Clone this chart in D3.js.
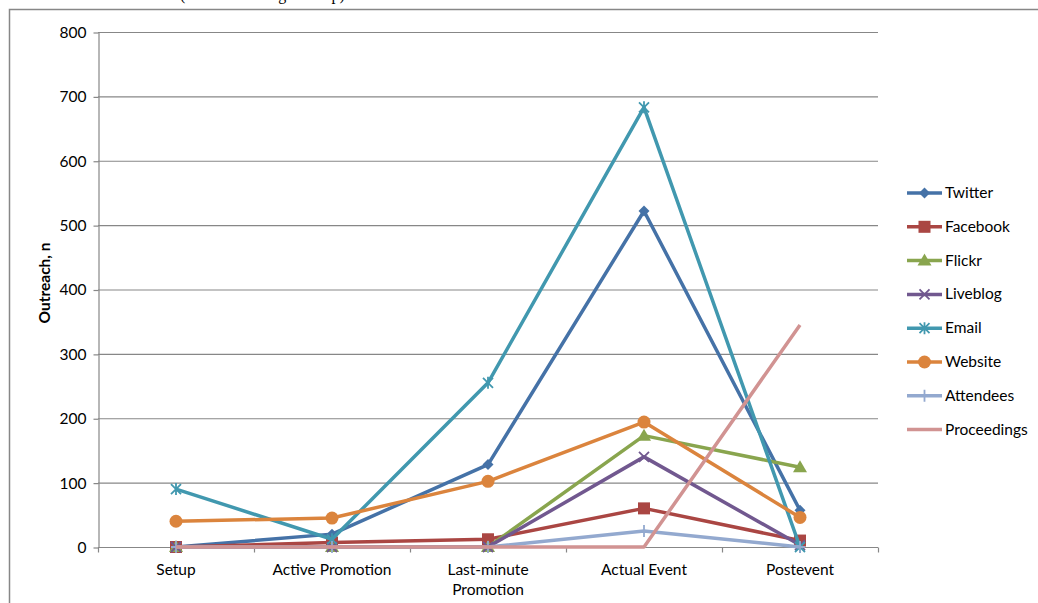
<!DOCTYPE html>
<html><head><meta charset="utf-8">
<script src="https://cdn.jsdelivr.net/npm/d3@7"></script>
<style>body{margin:0;background:#fff}svg{display:block}</style>
</head><body>
<svg id="chart" width="1038" height="603"></svg>
<script>
const categories = [["Setup"], ["Active Promotion"], ["Last-minute", "Promotion"], ["Actual Event"], ["Postevent"]];
const seriesNames = ["Twitter", "Facebook", "Flickr", "Liveblog", "Email", "Website", "Attendees", "Proceedings"];
const twitter = [0, 20, 128, 522, 57];
const facebook = [0, 7, 12, 60, 10];
const flickr = [0, 0, 0, 173, 124];
const liveblog = [0, 0, 0, 140, 3];
const email = [90, 12, 255, 683, 0];
const website = [40, 45, 102, 194, 46];
const attendees = [0, 0, 0, 25, 0];
const proceedings = [0, 0, 0, 0, 345];
const yTicks = [0, 100, 200, 300, 400, 500, 600, 700, 800];
const titleFragment = "(outreach during the step)";
const yTitle = "Outreach, n";

const colors = ["#4572A7", "#AA4643", "#89A54E", "#71588F", "#4198AF", "#DB843D", "#93A9CF", "#D19392"];
const markers = ["diamond", "square", "triangle", "x", "asterisk", "circle", "plus", "none"];
const values = [twitter, facebook, flickr, liveblog, email, website, attendees, proceedings];

const svg = d3.select("#chart");
const mLeft = 98, mRight = 878, mTop = 32, mBottom = 547;
const grid = "#878787";
const font = "Lato, 'Open Sans', sans-serif";
const fs = 15.5;

// outer border
svg.append("path").attr("d", "M9.5,603 L9.5,9.5 L1040,9.5").attr("fill", "none").attr("stroke", grid).attr("stroke-width", 1.5);
// clipped title (cut off at the top edge, as in the reference)
svg.append("text").attr("x", 180).attr("y", 0).attr("font-family", "'Liberation Serif', serif").attr("font-size", 16).text(titleFragment);

const x = d3.scaleBand().domain(d3.range(categories.length)).range([mLeft, mRight]);
const y = d3.scaleLinear().domain([0, 800]).range([mBottom, mTop]);

// gridlines
svg.append("g").selectAll("line").data(yTicks.filter(d => d > 0)).join("line")
  .attr("x1", mLeft).attr("x2", mRight).attr("y1", d => y(d) + 0.5).attr("y2", d => y(d) + 0.5)
  .attr("stroke", grid).attr("stroke-width", 1.2);

// y axis
const yAxis = svg.append("g").attr("transform", `translate(${mLeft + 0.5},0.5)`)
  .call(d3.axisLeft(y).tickValues(yTicks).tickSize(5).tickPadding(7).tickSizeOuter(0));
yAxis.select(".domain").attr("stroke", grid).attr("stroke-width", 1.2);
yAxis.selectAll(".tick line").attr("stroke", grid).attr("stroke-width", 1.2);
yAxis.selectAll(".tick text").attr("font-family", font).attr("font-size", fs).attr("fill", "#000");

// x axis
const xAxisG = svg.append("g").attr("transform", `translate(0,${mBottom + 0.5})`);
xAxisG.append("line").attr("x1", mLeft).attr("x2", mRight).attr("stroke", grid).attr("stroke-width", 1.2);
const bounds = d3.range(categories.length + 1).map(i => i < categories.length ? x(i) : x(categories.length - 1) + x.bandwidth());
xAxisG.selectAll(".xt").data(bounds).join("line").attr("class", "xt")
  .attr("x1", d => d + 0.5).attr("x2", d => d + 0.5).attr("y1", 0).attr("y2", 5)
  .attr("stroke", grid).attr("stroke-width", 1.2);
categories.forEach((lines, i) => {
  const t = xAxisG.append("text").attr("x", x(i) + x.bandwidth() / 2).attr("y", 27)
    .attr("text-anchor", "middle").attr("font-family", font).attr("font-size", fs).attr("fill", "#000");
  lines.forEach((l, j) => t.append("tspan").attr("x", x(i) + x.bandwidth() / 2).attr("dy", j === 0 ? 0 : 20).text(l));
});

// y title
svg.append("text").attr("transform", `translate(50,283) rotate(-90)`)
  .attr("text-anchor", "middle").attr("font-family", font).attr("font-size", fs).attr("font-weight", "bold").text(yTitle);

function drawMarker(g, type, cx, cy, color) {
  const s = 5.5;
  if (type === "diamond") g.append("path").attr("d", `M${cx},${cy - s} L${cx + s},${cy} L${cx},${cy + s} L${cx - s},${cy} Z`).attr("fill", color);
  else if (type === "square") g.append("rect").attr("x", cx - 6).attr("y", cy - 6).attr("width", 12).attr("height", 12).attr("fill", color);
  else if (type === "triangle") g.append("path").attr("d", `M${cx},${cy - 7} L${cx + 7},${cy + 5} L${cx - 7},${cy + 5} Z`).attr("fill", color);
  else if (type === "circle") g.append("circle").attr("cx", cx).attr("cy", cy).attr("r", 6.5).attr("fill", color);
  else if (type === "x") g.append("path").attr("d", `M${cx - 5},${cy - 5} L${cx + 5},${cy + 5} M${cx - 5},${cy + 5} L${cx + 5},${cy - 5}`).attr("stroke", color).attr("stroke-width", 1.8);
  else if (type === "asterisk") g.append("path").attr("d", `M${cx - 5},${cy - 5} L${cx + 5},${cy + 5} M${cx - 5},${cy + 5} L${cx + 5},${cy - 5} M${cx},${cy - 6} L${cx},${cy + 6}`).attr("stroke", color).attr("stroke-width", 1.8);
  else if (type === "plus") g.append("path").attr("d", `M${cx},${cy - 6} L${cx},${cy + 6} M${cx - 5},${cy} L${cx + 5},${cy}`).attr("stroke", color).attr("stroke-width", 1.8);
}

const line = d3.line().x((d, i) => x(i) + x.bandwidth() / 2).y(d => y(d));
const plot = svg.append("g");
values.forEach((vals, k) => {
  const g = plot.append("g");
  g.append("path").datum(vals).attr("d", line).attr("fill", "none").attr("stroke", colors[k])
    .attr("stroke-width", 3.5).attr("stroke-linejoin", "round");
  vals.forEach((v, i) => drawMarker(g, markers[k], x(i) + x.bandwidth() / 2, y(v), colors[k]));
});

// legend
const legend = svg.append("g");
seriesNames.forEach((name, k) => {
  const ly = 193 + k * 33.8;
  legend.append("line").attr("x1", 907).attr("x2", 942).attr("y1", ly).attr("y2", ly).attr("stroke", colors[k]).attr("stroke-width", 3.5);
  drawMarker(legend, markers[k], 924.5, ly, colors[k]);
  legend.append("text").attr("x", 945).attr("y", ly + 5).attr("font-family", font).attr("font-size", fs).attr("fill", "#000").text(name);
});
</script>
</body></html>
